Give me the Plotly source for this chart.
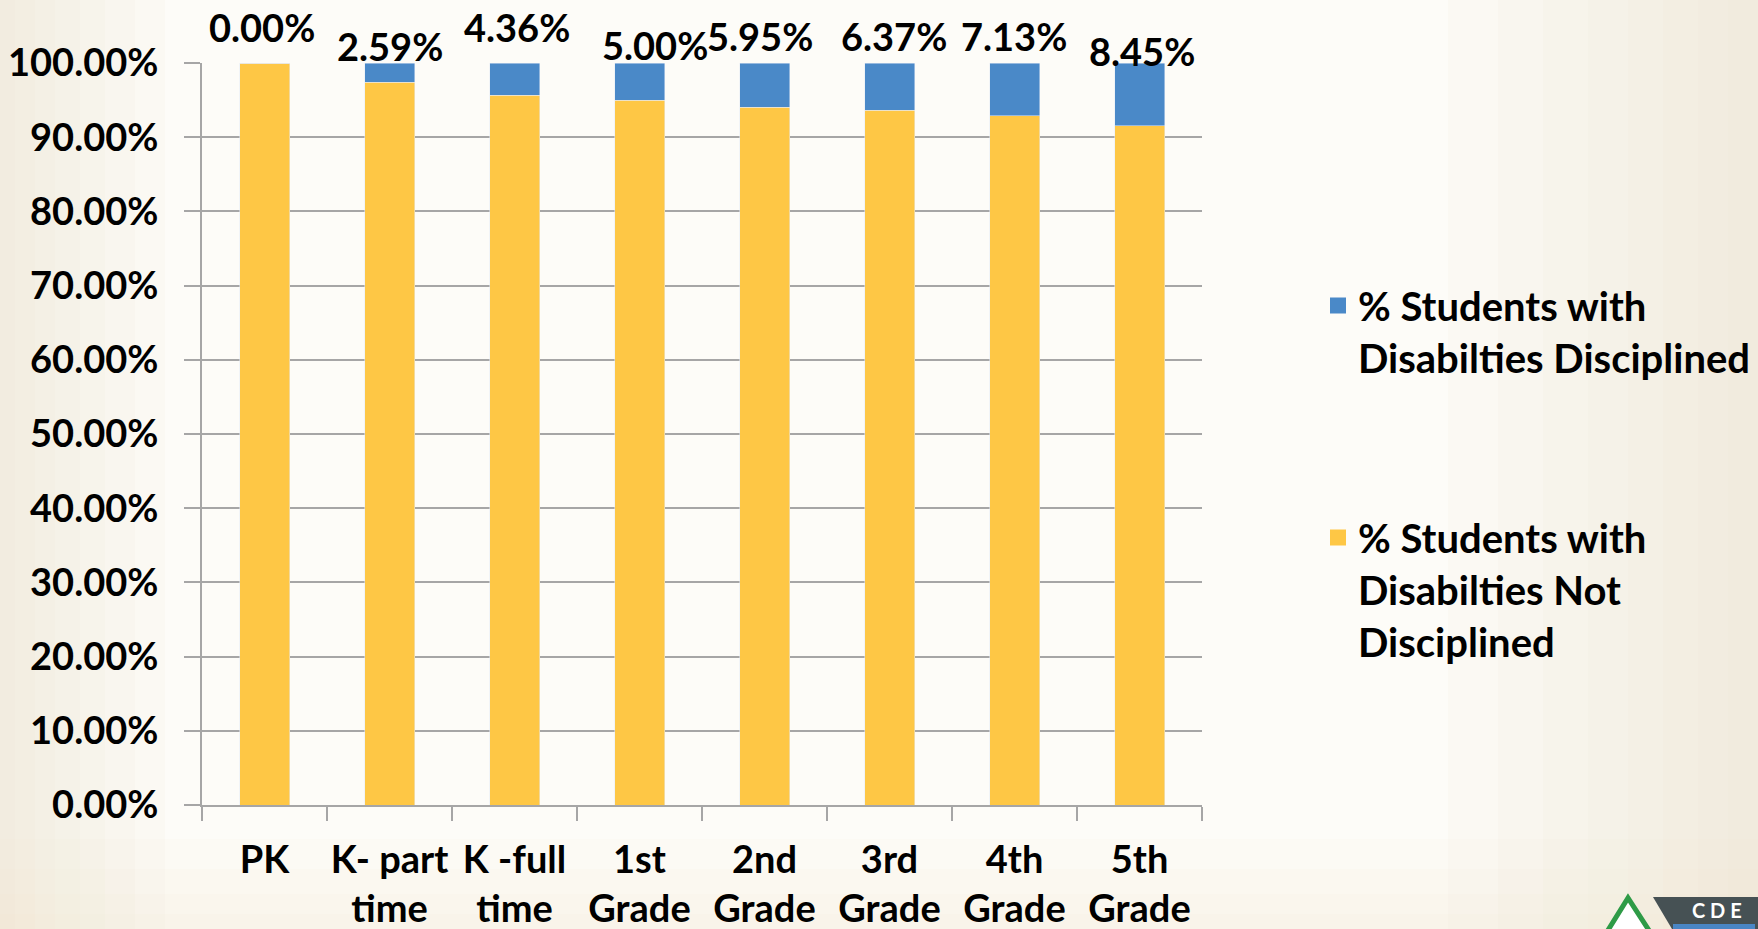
import plotly.graph_objects as go

grades = ["PK", "K- part<br>time", "K -full<br>time", "1st<br>Grade", "2nd<br>Grade",
          "3rd<br>Grade", "4th<br>Grade", "5th<br>Grade"]
disciplined = [0.00, 2.59, 4.36, 5.00, 5.95, 6.37, 7.13, 8.45]
not_disciplined = [100.00, 97.41, 95.64, 95.00, 94.05, 93.63, 92.87, 91.55]
y_ticks = [0, 10, 20, 30, 40, 50, 60, 70, 80, 90, 100]

# where Excel happened to drop each data label (pixel nudges)
label_dy = [36, 17, 36, 18, 27, 27, 27, 12]
label_dx = [-3, 0, 2, 15, -5, 4, -1, 2]

W, H = 1758, 929
L, R, T, B = 202, 556, 63, 124
BLUE = "#4a89c8"
YELLOW = "#fec745"
GRID = "#a6a6a6"
FONT = "Lato"
NAME_DISC = "% Students with<br>Disabilties Disciplined"
NAME_NOT = "% Students with<br>Disabilties Not<br>Disciplined"


def px_x(p):
    return (p - L) / (W - L - R)


def px_y(p):
    return (H - B - p) / (H - T - B)


fig = go.Figure()
fig.add_trace(go.Bar(x=grades, y=not_disciplined, marker_color=YELLOW,
                     name=NAME_NOT, showlegend=False))
fig.add_trace(go.Bar(x=grades, y=disciplined, marker_color=BLUE,
                     name=NAME_DISC, showlegend=False))
# legend-only entries so the swatches come out as bigger squares
fig.add_trace(go.Scatter(x=[None], y=[None], mode="markers", name=NAME_DISC,
                         marker=dict(symbol="square", size=16, color=BLUE),
                         legendgroup="disc", legendrank=1))
fig.add_trace(go.Scatter(x=[None], y=[None], mode="markers", name=NAME_NOT,
                         marker=dict(symbol="square", size=16, color=YELLOW),
                         legendgroup="not", legendrank=2))

annotations = []
for g, v, dy, dx in zip(grades, disciplined, label_dy, label_dx):
    annotations.append(dict(x=g, y=100, xref="x", yref="y", text="%.2f%%" % v,
                            showarrow=False, yanchor="middle", yshift=dy, xshift=dx,
                            font=dict(family=FONT, size=38, color="black", weight="bold")))

annotations.append(dict(x=px_x(1717), y=px_y(910), xref="paper", yref="paper", text="C D E",
                        showarrow=False, xanchor="center", yanchor="middle",
                        font=dict(family=FONT, size=20, color="white", weight="bold")))

shapes = []
# soft beige vignette at the slide edges
for w in [15, 35, 55, 80, 105, 135, 165]:
    shapes.append(dict(type="rect", xref="paper", yref="paper", layer="below",
                       x0=px_x(0), x1=px_x(w), y0=px_y(H), y1=px_y(0),
                       fillcolor="#ece5cf", opacity=0.11, line_width=0))
for w in [30, 60, 95, 130, 170, 215, 260, 310]:
    shapes.append(dict(type="rect", xref="paper", yref="paper", layer="below",
                       x0=px_x(W - w), x1=px_x(W), y0=px_y(H), y1=px_y(0),
                       fillcolor="#ece5cf", opacity=0.1, line_width=0))
for h in [15, 35, 60, 90]:
    shapes.append(dict(type="rect", xref="paper", yref="paper", layer="below",
                       x0=px_x(0), x1=px_x(W), y0=px_y(H), y1=px_y(H - h),
                       fillcolor="#ece5cf", opacity=0.08, line_width=0))

# corner logo
shapes.append(dict(type="path", xref="paper", yref="paper",
                   path="M%f,%f L%f,%f L%f,%f Z" % (px_x(1605), px_y(935), px_x(1628), px_y(898),
                                                   px_x(1652), px_y(935)),
                   fillcolor="white", line=dict(color="#2e9b47", width=5)))
shapes.append(dict(type="path", xref="paper", yref="paper",
                   path="M%f,%f L%f,%f L%f,%f L%f,%f Z" % (px_x(1653), px_y(897), px_x(W), px_y(897),
                                                         px_x(W), px_y(H), px_x(1672), px_y(H)),
                   fillcolor="#465154", line_width=0))
shapes.append(dict(type="rect", xref="paper", yref="paper",
                   x0=px_x(1673), x1=px_x(1755), y0=px_y(H), y1=px_y(924),
                   fillcolor="#4a86c5", line_width=0))

fig.update_layout(
    width=W, height=H,
    margin=dict(l=L, r=R, t=T, b=B, autoexpand=False),
    barmode="stack", bargap=0.6,
    paper_bgcolor="#fdfcf8", plot_bgcolor="rgba(0,0,0,0)",
    font=dict(family=FONT, size=38, color="black", weight="bold"),
    showlegend=True,
    legend=dict(x=px_x(1318), y=px_y(273), xanchor="left", yanchor="top",
                traceorder="grouped", tracegroupgap=125, valign="top",
                font=dict(family=FONT, size=40, color="black", weight="bold"),
                bgcolor="rgba(0,0,0,0)"),
    annotations=annotations,
    shapes=shapes,
)
fig.update_xaxes(showline=True, linecolor=GRID, linewidth=2, ticks="outside",
                 tickson="boundaries", ticklen=14, tickcolor=GRID, tickwidth=2,
                 showgrid=False, tickangle=0, automargin=False, ticklabelstandoff=20)
fig.update_yaxes(range=[0, 100], tickvals=y_ticks, ticktext=["%.2f%%" % v for v in y_ticks],
                 showline=True, linecolor=GRID, linewidth=2, ticks="outside",
                 ticklen=16, tickcolor=GRID, tickwidth=2, showgrid=True, automargin=False,
                 gridcolor=GRID, gridwidth=2, zeroline=False, ticklabelstandoff=18)

fig.write_html("out.html", config={"displayModeBar": False},
               post_script="document.body.style.margin='0';")
